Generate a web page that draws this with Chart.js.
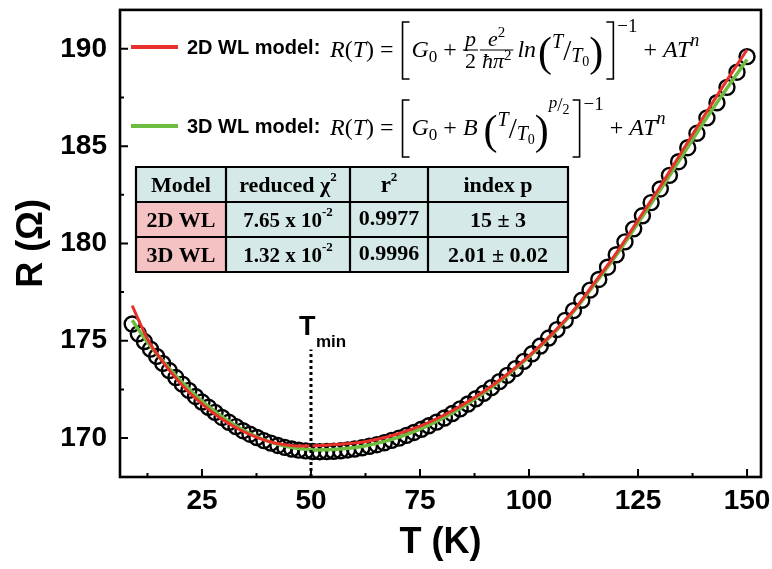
<!DOCTYPE html>
<html>
<head>
<meta charset="utf-8">
<script src="https://cdn.jsdelivr.net/npm/chart.js@4.4.1/dist/chart.umd.min.js"></script>
<style>
  html, body { margin: 0; padding: 0; background: #fff; }
</style>
</head>
<body>
<canvas id="rtChart" width="772" height="569"></canvas>
<script>
// measured points (open circles)
const tempK = [
  9.0, 10.4, 11.8, 13.2, 14.6, 16.0, 17.5, 19.0, 20.5, 22.0,
  23.5, 25.0, 26.5, 28.0, 29.6, 31.2, 32.8, 34.4, 36.0, 37.6,
  39.2, 40.8, 42.4, 44.0, 45.6, 47.2, 48.8, 50.4, 52.0, 53.6,
  55.2, 56.8, 58.4, 60.0, 61.7, 63.4, 65.1, 66.8, 68.5, 70.2,
  71.9, 73.6, 75.3, 77.0, 78.8, 80.6, 82.4, 84.2, 86.0, 87.8,
  89.6, 91.4, 93.2, 95.0, 96.9, 98.8, 100.7, 102.6, 104.5, 106.4,
  108.3, 110.2, 112.1, 114.0, 116.0, 118.0, 120.0, 122.0, 124.0, 126.0,
  128.0, 130.1, 132.2, 134.3, 136.4, 138.5, 140.8, 143.1, 145.4, 147.7, 150.0
];
const resistance = [
  175.86, 175.36, 174.96, 174.57, 174.20, 173.84, 173.47, 173.11, 172.77, 172.45,
  172.14, 171.85, 171.58, 171.32, 171.06, 170.81, 170.59, 170.38, 170.20, 170.03,
  169.87, 169.74, 169.62, 169.52, 169.44, 169.38, 169.34, 169.31, 169.30, 169.31,
  169.32, 169.35, 169.39, 169.44, 169.50, 169.58, 169.66, 169.76, 169.88, 170.00,
  170.14, 170.29, 170.45, 170.63, 170.82, 171.03, 171.26, 171.50, 171.75, 172.02,
  172.30, 172.59, 172.90, 173.22, 173.57, 173.94, 174.33, 174.73, 175.14, 175.57,
  176.05, 176.55, 177.08, 177.60, 178.15, 178.78, 179.42, 180.08, 180.75, 181.42,
  182.10, 182.80, 183.50, 184.20, 184.92, 185.66, 186.45, 187.23, 188.02, 188.80, 189.60
];

// fit curves
const fitTemps = [9, 11, 13, 15, 18, 21, 24, 27, 30, 34, 38, 42, 46, 50, 54, 58, 62, 66, 70,
  75, 80, 85, 90, 95, 100, 105, 110, 115, 120, 125, 130, 135, 140, 145, 150];
const fit2D = [176.80, 175.80, 174.90, 174.22, 173.35, 172.59, 171.95, 171.39, 170.91, 170.39,
  170.00, 169.73, 169.60, 169.60, 169.65, 169.71, 169.80, 169.98, 170.22, 170.61, 171.12,
  171.74, 172.46, 173.28, 174.22, 175.29, 176.50, 177.98, 179.50, 181.20, 182.90, 184.70,
  186.50, 188.25, 189.95];
const fit3D = [176.05, 175.40, 174.78, 174.22, 173.45, 172.74, 172.10, 171.54, 171.03, 170.47,
  170.03, 169.70, 169.50, 169.40, 169.40, 169.46, 169.58, 169.78, 170.04, 170.46, 171.00,
  171.64, 172.38, 173.22, 174.17, 175.24, 176.45, 177.90, 179.40, 181.05, 182.72, 184.45,
  186.20, 187.85, 189.45];

const xTickValues = [25, 50, 75, 100, 125, 150];
const xMinorValues = [12.5, 37.5, 62.5, 87.5, 112.5, 137.5];
const yTickValues = [170, 175, 180, 185, 190];
const yMinorValues = [172.5, 177.5, 182.5, 187.5];

const tminT = 50;
const tminRange = [168, 174.55];

// table
const tableHeader = ['Model', 'reduced χ', 'r', 'index p'];
const tableModels = ['2D WL', '3D WL'];
const chiMantissa = ['7.65', '1.32'];
const chiExponent = '-2';
const r2Values = ['0.9977', '0.9996'];
const indexP = ['15 ± 3', '2.01 ± 0.02'];

const RED = '#e8312a';
const GREEN = '#6dbb3f';
const SERIF = '"Liberation Serif", "Times New Roman", serif';
const SANS = '"Liberation Sans", Arial, sans-serif';
const I = s => `italic ${s}px ${SERIF}`;
const N = s => `${s}px ${SERIF}`;

function seq(ctx, parts, x, y) {
    parts.forEach(([s, f, dy]) => {
        ctx.font = f;
        ctx.fillText(s, x, y + (dy || 0));
        x += ctx.measureText(s).width;
    });
    return x;
}
function seqWidth(ctx, parts) {
    let w = 0;
    parts.forEach(([s, f]) => { ctx.font = f; w += ctx.measureText(s).width; });
    return w;
}
function frac(ctx, num, den, x, bar, size) {
    const wn = seqWidth(ctx, num), wd = seqWidth(ctx, den);
    const w = Math.max(wn, wd) + 4;
    seq(ctx, num, x + (w - wn) / 2, bar - 4);
    seq(ctx, den, x + (w - wd) / 2, bar + size * 0.7 + 3);
    ctx.lineWidth = 1.1;
    ctx.beginPath(); ctx.moveTo(x, bar); ctx.lineTo(x + w, bar); ctx.stroke();
    return x + w;
}
function bracket(ctx, x, top, bot, dir) {
    ctx.lineWidth = 1.6;
    ctx.beginPath();
    ctx.moveTo(x + 7 * dir, top); ctx.lineTo(x, top); ctx.lineTo(x, bot); ctx.lineTo(x + 7 * dir, bot);
    ctx.stroke();
}
function centered(ctx, parts, cx, y) {
    seq(ctx, parts, cx - seqWidth(ctx, parts) / 2, y);
}

function drawEquations(ctx) {
    ctx.fillStyle = '#000';
    ctx.strokeStyle = '#000';
    ctx.textBaseline = 'alphabetic';
    ctx.textAlign = 'left';

    // legend swatches
    [[47, RED, '2D WL model:'], [126, GREEN, '3D WL model:']].forEach(([ly, col, txt]) => {
        ctx.strokeStyle = col; ctx.lineWidth = 4;
        ctx.beginPath(); ctx.moveTo(131, ly); ctx.lineTo(178, ly); ctx.stroke();
        ctx.font = `bold 20px ${SANS}`;
        ctx.fillText(txt, 187, ly + 7);
    });
    ctx.strokeStyle = '#000';

    // 2D WL
    let b = 57, bar = 50;
    let x = 330;
    x = seq(ctx, [['R', I(24)], ['(', N(24)], ['T', I(24)], [')', N(24)], [' = ', N(24)]], x, b);
    bracket(ctx, x + 3, 22, 79, 1); x += 12;
    x = seq(ctx, [['G', I(24)], ['0', N(17), 5], [' + ', N(24)]], x, b);
    x = frac(ctx, [['p', I(22)]], [['2', N(22)]], x, bar, 22) + 2;
    x = frac(ctx, [['e', I(22)], ['2', N(15), -9]], [['ħπ', I(22)], ['2', N(15), -8]], x, bar, 22) + 4;
    x = seq(ctx, [['ln', I(24)]], x, b) + 2;
    x = seq(ctx, [['(', N(42), 9]], x, b);
    x = seq(ctx, [['T', I(20), -9], ['/', N(29), 3], ['T', I(20), 5], ['0', N(14), 9]], x, b);
    x = seq(ctx, [[')', N(42), 9]], x, b) + 3;
    bracket(ctx, x + 7, 22, 79, -1); x += 11;
    x = seq(ctx, [['−1', N(19), -25]], x, b) + 6;
    seq(ctx, [['+ ', N(24)], ['AT', I(24)], ['n', I(18), -11]], x, b);

    // 3D WL
    b = 135;
    x = 330;
    x = seq(ctx, [['R', I(24)], ['(', N(24)], ['T', I(24)], [')', N(24)], [' = ', N(24)]], x, b);
    bracket(ctx, x + 3, 100, 157, 1); x += 12;
    x = seq(ctx, [['G', I(24)], ['0', N(17), 5], [' + ', N(24)], ['B', I(24)], [' ', N(24)]], x, b);
    x = seq(ctx, [['(', N(42), 9]], x, b);
    x = seq(ctx, [['T', I(20), -9], ['/', N(29), 3], ['T', I(20), 5], ['0', N(14), 9]], x, b);
    x = seq(ctx, [[')', N(42), 9]], x, b);
    x = seq(ctx, [['p', I(17), -27], ['/', N(19), -24], ['2', N(14), -21]], x, b) + 3;
    bracket(ctx, x + 7, 100, 157, -1); x += 11;
    x = seq(ctx, [['−1', N(19), -25]], x, b) + 6;
    seq(ctx, [['+ ', N(24)], ['AT', I(24)], ['n', I(18), -11]], x, b);
}

function drawTable(ctx) {
    const cols = [136, 226, 350, 428, 568];
    const rows = [167, 202, 237, 272];
    for (let r = 0; r < 3; r++) {
        for (let c = 0; c < 4; c++) {
            ctx.fillStyle = (r > 0 && c === 0) ? '#f4c2c3' : '#d5e9e8';
            ctx.fillRect(cols[c], rows[r], cols[c + 1] - cols[c], rows[r + 1] - rows[r]);
        }
    }
    ctx.strokeStyle = '#000';
    ctx.lineWidth = 2.2;
    ctx.beginPath();
    cols.forEach(cx => { ctx.moveTo(cx, rows[0]); ctx.lineTo(cx, rows[3]); });
    rows.forEach(ry => { ctx.moveTo(cols[0] - 1, ry); ctx.lineTo(cols[4] + 1, ry); });
    ctx.stroke();

    ctx.fillStyle = '#000';
    const B = s => `bold ${s}px ${SERIF}`;
    const mid = c => (cols[c] + cols[c + 1]) / 2;
    const base = r => (rows[r] + rows[r + 1]) / 2 + 7;
    centered(ctx, [[tableHeader[0], B(22)]], mid(0), base(0));
    centered(ctx, [['reduced ', B(22)], ['χ', B(22)], ['2', B(13), -11]], mid(1), base(0));
    centered(ctx, [[tableHeader[2], B(23)], ['2', B(13), -11]], mid(2), base(0));
    centered(ctx, [[tableHeader[3], B(22)]], mid(3), base(0));
    for (let i = 0; i < 2; i++) {
        centered(ctx, [[tableModels[i], B(22)]], mid(0), base(i + 1));
        centered(ctx, [[chiMantissa[i] + ' x 10', B(21)], [chiExponent, B(13), -11]], mid(1), base(i + 1));
        centered(ctx, [[r2Values[i], B(22)]], mid(2), base(i + 1) - 2);
        centered(ctx, [[indexP[i], B(22)]], mid(3), base(i + 1));
    }
}

const frameAndMarks = {
    id: 'frameAndMarks',
    beforeDatasetsDraw(chart) {
        const { ctx, chartArea: a, scales: { x, y } } = chart;
        ctx.save();
        ctx.strokeStyle = '#000';
        ctx.lineWidth = 2;
        ctx.beginPath();
        xTickValues.forEach(v => { const px = x.getPixelForValue(v); ctx.moveTo(px, a.bottom); ctx.lineTo(px, a.bottom - 8); });
        xMinorValues.forEach(v => { const px = x.getPixelForValue(v); ctx.moveTo(px, a.bottom); ctx.lineTo(px, a.bottom - 4); });
        yTickValues.forEach(v => { const py = y.getPixelForValue(v); ctx.moveTo(a.left, py); ctx.lineTo(a.left + 8, py); });
        yMinorValues.forEach(v => { const py = y.getPixelForValue(v); ctx.moveTo(a.left, py); ctx.lineTo(a.left + 4, py); });
        ctx.stroke();
        ctx.restore();
    },
    afterDatasetsDraw(chart) {
        const { ctx, chartArea: a, scales: { x, y } } = chart;
        ctx.save();
        ctx.strokeStyle = '#000';
        ctx.lineWidth = 2.6;
        ctx.strokeRect(a.left, a.top, a.right - a.left, a.bottom - a.top);

        drawEquations(ctx);
        drawTable(ctx);

        // T_min label
        const tx = x.getPixelForValue(tminT) - 12;
        const ty = y.getPixelForValue(tminRange[1]) - 15;
        ctx.fillStyle = '#000';
        ctx.font = `bold 27px ${SANS}`;
        ctx.fillText('T', tx, ty);
        ctx.font = `bold 17px ${SANS}`;
        ctx.fillText('min', tx + 17, ty + 12);
        ctx.restore();
    }
};

const pts = (xs, ys) => xs.map((t, i) => ({ x: t, y: ys[i] }));
const noPad = s => { s.paddingTop = 0; s.paddingBottom = 0; s.paddingLeft = 0; s.paddingRight = 0; };

new Chart(document.getElementById('rtChart'), {
    type: 'scatter',
    data: {
        datasets: [
            {
                label: 'Tmin',
                data: [{ x: tminT, y: tminRange[0] }, { x: tminT, y: tminRange[1] }],
                showLine: true, borderColor: '#000', borderWidth: 3, borderDash: [3, 3], pointRadius: 0
            },
            {
                label: '2D WL model',
                data: pts(fitTemps, fit2D),
                showLine: true, borderColor: RED, borderWidth: 3, pointRadius: 0, tension: 0.4
            },
            {
                label: '3D WL model',
                data: pts(fitTemps, fit3D),
                showLine: true, borderColor: GREEN, borderWidth: 3.5, pointRadius: 0, tension: 0.4
            },
            {
                label: 'R(T)',
                data: pts(tempK, resistance),
                showLine: false, pointRadius: 7.5, pointBorderWidth: 2.4,
                pointBorderColor: '#000', pointBackgroundColor: 'rgba(0,0,0,0)'
            }
        ]
    },
    options: {
        responsive: false,
        animation: false,
        layout: { padding: { top: 3, right: 11, left: 0, bottom: 0 } },
        plugins: { legend: { display: false }, tooltip: { enabled: false } },
        scales: {
            x: {
                type: 'linear', min: 6.2, max: 153.2,
                grid: { display: false, drawTicks: false },
                border: { display: false },
                afterBuildTicks: s => { s.ticks = xTickValues.map(v => ({ value: v })); },
                afterFit: s => { s.height = 92; noPad(s); },
                ticks: { font: { family: SANS, size: 28, weight: 'bold' }, color: '#000', padding: 7, maxRotation: 0, autoSkip: false },
                title: { display: true, text: 'T (K)', color: '#000', font: { family: SANS, size: 36, weight: 'bold', lineHeight: 1 }, padding: { top: 0, bottom: 8 } }
            },
            y: {
                type: 'linear', min: 168, max: 192,
                grid: { display: false, drawTicks: false },
                border: { display: false },
                afterBuildTicks: s => { s.ticks = yTickValues.map(v => ({ value: v })); },
                afterFit: s => { s.width = 120; noPad(s); },
                ticks: { font: { family: SANS, size: 28, weight: 'bold' }, color: '#000', padding: 13, autoSkip: false },
                title: { display: true, text: 'R (Ω)', color: '#000', font: { family: SANS, size: 36, weight: 'bold', lineHeight: 1 }, padding: { top: 14, bottom: 14 } }
            }
        }
    },
    plugins: [frameAndMarks]
});
</script>
</body>
</html>
